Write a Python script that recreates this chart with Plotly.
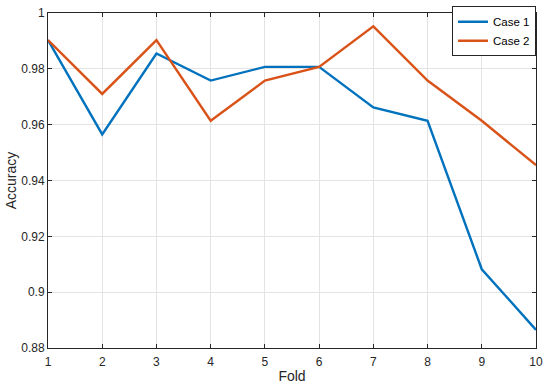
import plotly.graph_objects as go

folds = [1, 2, 3, 4, 5, 6, 7, 8, 9, 10]
case1 = [0.9903, 0.9565, 0.9855, 0.9758, 0.9807, 0.9807, 0.9662, 0.9614, 0.9082, 0.8865]
case2 = [0.9903, 0.9710, 0.9903, 0.9614, 0.9758, 0.9807, 0.9952, 0.9758, 0.9614, 0.9455]
xticks = folds
yticks = [0.88, 0.9, 0.92, 0.94, 0.96, 0.98, 1.0]
ytick_labels = ["0.88", "0.9", "0.92", "0.94", "0.96", "0.98", "1"]

fig = go.Figure()
fig.add_trace(go.Scatter(x=folds, y=case1, mode="lines", name="Case 1",
                         line=dict(color="#0072BD", width=2.4)))
fig.add_trace(go.Scatter(x=folds, y=case2, mode="lines", name="Case 2",
                         line=dict(color="#D95319", width=2.4)))

axis_common = dict(showline=True, linecolor="#262626", linewidth=1, mirror="ticks",
                   ticks="inside", ticklen=4, tickcolor="#262626",
                   showgrid=True, gridcolor="#e3e3e3", gridwidth=1, zeroline=False,
                   ticklabeloverflow="allow",
                   tickfont=dict(family="Liberation Sans, Arial", size=12, color="#262626"))

fig.update_layout(
    width=550, height=387,
    margin=dict(l=48, r=14, t=6, b=39),
    paper_bgcolor="white", plot_bgcolor="white",
    font=dict(family="Liberation Sans, Arial", size=12, color="#262626"),
    xaxis=dict(range=[1, 10], tickvals=xticks, ticklabelstandoff=3,
               title=dict(text="Fold", standoff=2), **axis_common),
    yaxis=dict(range=[0.88, 1.0], tickvals=yticks, ticktext=ytick_labels,
               title=dict(text="Accuracy", standoff=1), **axis_common),
    legend=dict(x=1, y=1.02, xanchor="right", yanchor="top", bgcolor="white",
                bordercolor="#262626", borderwidth=1, font=dict(size=11.5, color="#000000"),
                tracegroupgap=0, itemwidth=30),
    showlegend=True,
)
fig.write_html("out.html", config={"displayModeBar": False},
               post_script="document.body.style.margin='0';document.body.style.overflow='hidden';")
